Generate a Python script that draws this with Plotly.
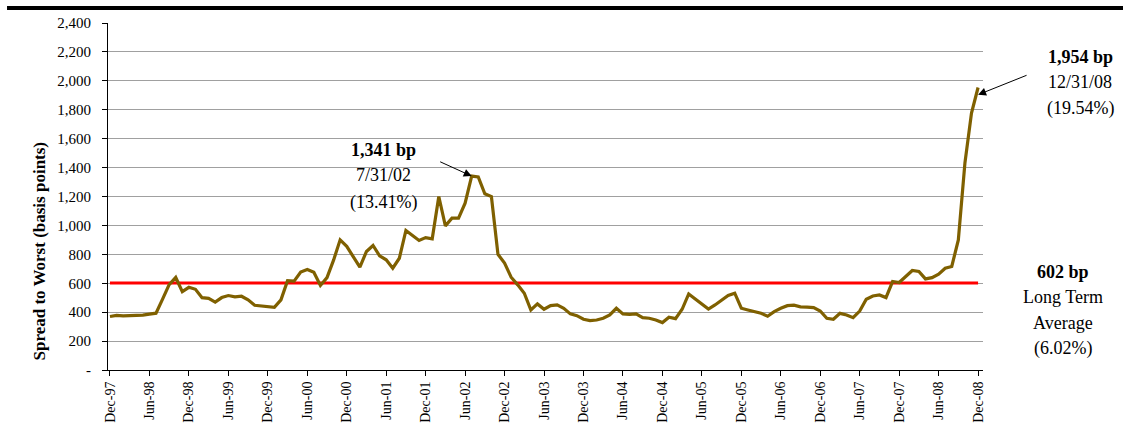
import plotly.graph_objects as go

# ---- data ----
spread_bp = [
    370, 378, 375, 376, 377, 380, 387, 393, 490, 590,
    640, 542, 572, 558, 500, 495, 470, 501, 515, 506,
    510, 485, 448, 443, 436, 434, 485, 618, 615, 678,
    695, 676, 585, 639, 760, 900, 855, 785, 711, 820,
    861, 790, 762, 704, 773, 965, 928, 896, 916, 907,
    1200, 997, 1050, 1050, 1154, 1341, 1335, 1219, 1200, 800,
    739, 642, 589, 531, 415, 457, 420, 445, 450, 427,
    388, 376, 351, 342, 346, 358, 381, 427, 388, 385,
    388, 362, 358, 346, 328, 365, 355, 420, 526, 489,
    455, 422, 450, 485, 515, 531, 427, 415, 404, 392,
    372, 404, 427, 445, 448, 437, 435, 431, 408, 358,
    351, 392, 381, 362, 408, 489, 512, 519, 501, 612,
    605, 646, 688, 681, 630, 639, 663, 704, 716, 900,
    1431, 1777, 1954,
]
long_term_avg = 602
tick_labels = [
    "Dec-97", "Jun-98", "Dec-98", "Jun-99", "Dec-99", "Jun-00", "Dec-00",
    "Jun-01", "Dec-01", "Jun-02", "Dec-02", "Jun-03", "Dec-03", "Jun-04",
    "Dec-04", "Jun-05", "Dec-05", "Jun-06", "Dec-06", "Jun-07", "Dec-07",
    "Jun-08", "Dec-08",
]
y_tick_vals = [0, 200, 400, 600, 800, 1000, 1200, 1400, 1600, 1800, 2000, 2200, 2400]
y_tick_text = ["-", "200", "400", "600", "800", "1,000", "1,200", "1,400",
               "1,600", "1,800", "2,000", "2,200", "2,400"]

peak_idx = 55
last_idx = len(spread_bp) - 1
x_idx = list(range(len(spread_bp)))

FONT = "Liberation Serif"

fig = go.Figure()
fig.add_trace(go.Scatter(
    x=x_idx, y=[long_term_avg] * len(spread_bp), mode="lines",
    line=dict(color="#FF0000", width=3), hoverinfo="skip", showlegend=False))
fig.add_trace(go.Scatter(
    x=x_idx, y=spread_bp, mode="lines",
    line=dict(color="#7F6000", width=3.2), showlegend=False))

fig.update_layout(
    width=1135, height=444,
    margin=dict(l=108, r=152, t=23, b=74),
    paper_bgcolor="white", plot_bgcolor="white",
    font=dict(family=FONT, color="black", size=14),
    xaxis=dict(
        range=[-0.3, 132.75], tickmode="array",
        tickvals=list(range(0, len(spread_bp), 6)), ticktext=tick_labels,
        tickangle=-90, ticks="outside", ticklen=5, tickcolor="black",
        showline=True, linecolor="black", linewidth=1, showgrid=False,
        zeroline=False, tickfont=dict(size=14, family=FONT)),
    yaxis=dict(
        range=[0, 2400], tickmode="array", tickvals=y_tick_vals,
        ticktext=y_tick_text, ticks="outside", ticklen=5, tickcolor="black",
        showline=True, linecolor="black", linewidth=1,
        showgrid=True, gridcolor="#A0A0A0", gridwidth=1, zeroline=False,
        ticklabelstandoff=8, tickfont=dict(size=15, family=FONT)),
    shapes=[dict(type="line", xref="paper", yref="paper",
                 x0=-0.1154, x1=1.16, y0=1.043, y1=1.043,
                 line=dict(color="black", width=4))],
)

ann = []
# y-axis title
ann.append(dict(text="<b>Spread to Worst (basis points)</b>", xref="paper", yref="paper",
                x=-0.0914, y=0.343, showarrow=False, textangle=-90,
                font=dict(size=17, family=FONT)))


def block(lines, xp, yps):
    for t, yp in zip(lines, yps):
        ann.append(dict(text=t, xref="paper", yref="paper", x=xp, y=yp,
                        showarrow=False, xanchor="center", yanchor="middle",
                        font=dict(size=18, family=FONT)))


block(["<b>1,341 bp</b>", "7/31/02", "(13.41%)"], 0.3143, [0.634, 0.562, 0.484])
block(["<b>1,954 bp</b>", "12/31/08", "(19.54%)"], 1.1109, [0.902, 0.830, 0.755])
block(["<b>602 bp</b>", "Long Term", "Average", "(6.02%)"], 1.0914,
      [0.2824, 0.2104, 0.1354, 0.0634])

# arrows
ann.append(dict(x=peak_idx, y=spread_bp[peak_idx], xref="x", yref="y", text="",
                showarrow=True, ax=-33, ay=-15, arrowhead=2, arrowsize=1.6,
                arrowwidth=1, arrowcolor="black", standoff=0))
ann.append(dict(x=last_idx, y=spread_bp[last_idx] - 50, xref="x", yref="y", text="",
                showarrow=True, ax=50, ay=-20, arrowhead=2, arrowsize=1.6,
                arrowwidth=1, arrowcolor="black", standoff=0))

fig.update_layout(annotations=ann)
fig.write_html("out.html", config={"displayModeBar": False},
               post_script="document.body.style.margin='0';document.body.style.overflow='hidden';")
